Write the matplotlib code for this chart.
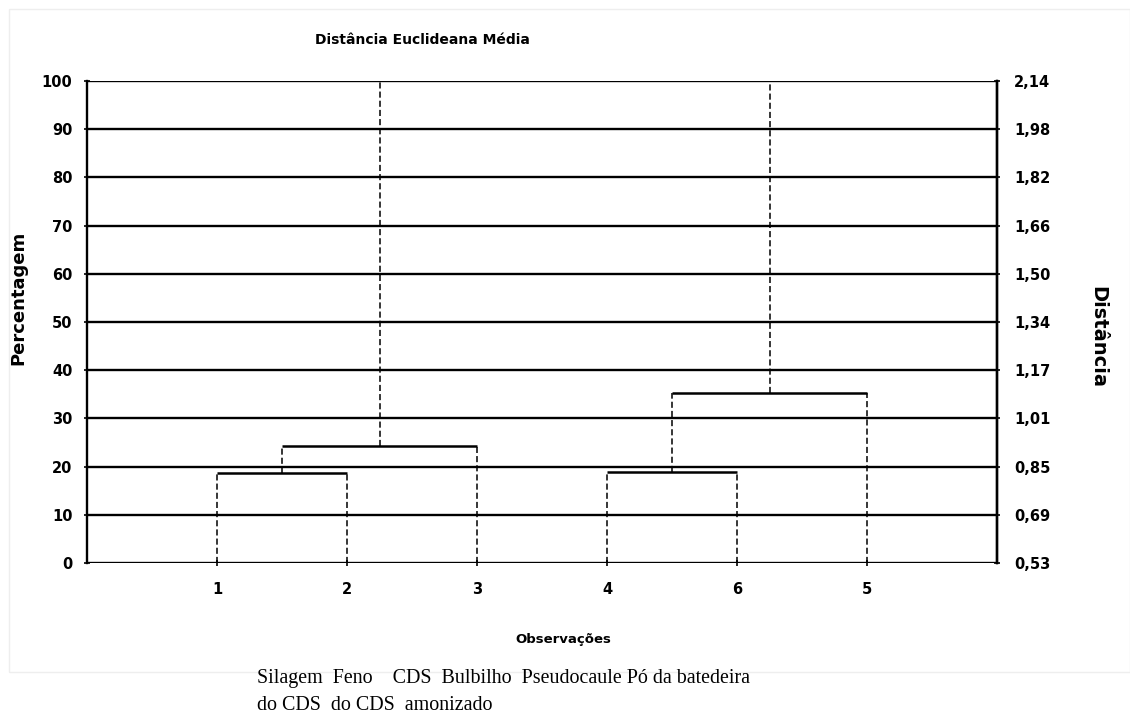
import matplotlib
matplotlib.use("Agg")
import matplotlib.pyplot as plt
from matplotlib.patches import Rectangle

# ---------------- data ----------------
leaf_labels = ['1', '2', '3', '4', '6', '5']
# merges: (child_a, child_b, height in %) ; new node ids start at len(leaf_labels)
merge_a = [0, 6, 3, 8]
merge_b = [1, 2, 4, 5]
merge_h = [18.7, 24.2, 18.9, 35.3]
top_height = 100
left_ticks = [0, 10, 20, 30, 40, 50, 60, 70, 80, 90, 100]
right_tick_labels = ['0,53', '0,69', '0,85', '1,01', '1,17', '1,34',
                     '1,50', '1,66', '1,82', '1,98', '2,14']
title = 'Distância Euclideana Média'
ylabel_left = 'Percentagem'
ylabel_right = 'Distância'
xlabel = 'Observações'
caption_line1 = 'Silagem  Feno    CDS  Bulbilho  Pseudocaule Pó da batedeira'
caption_line2 = 'do CDS  do CDS  amonizado'

# ---------------- figure ----------------
W, H = 1130, 722
fig = plt.figure(figsize=(W / 100, H / 100), dpi=100)
fig.patches.append(Rectangle((9 / W, 1 - 672 / H), 1 - 9 / W, (672 - 9) / H,
                             transform=fig.transFigure, fill=False,
                             edgecolor='#eeeeee', linewidth=1))

ax = fig.add_axes([87 / W, 1 - 563 / H, (997 - 87) / W, (563 - 81) / H])
ax.set_xlim(0, len(leaf_labels) + 1)
ax.set_ylim(0, 100)

bold = dict(family='DejaVu Sans', weight='bold')

# gridlines
for t in left_ticks:
    ax.axhline(t, color='black', lw=1.7, zorder=1)

# dendrogram
pos = {i: i + 1 for i in range(len(leaf_labels))}
hgt = {i: 0 for i in range(len(leaf_labels))}
parent_h = {}
for k, (a, b, h) in enumerate(zip(merge_a, merge_b, merge_h)):
    nid = len(leaf_labels) + k
    parent_h[a] = h
    parent_h[b] = h
    pos[nid] = (pos[a] + pos[b]) / 2
    hgt[nid] = h
for node in pos:
    ph = parent_h.get(node, top_height)
    ax.plot([pos[node], pos[node]], [hgt[node], ph], color='black', lw=1.1,
            ls=(0, (4, 2)), zorder=3, clip_on=False)
for k, (a, b, h) in enumerate(zip(merge_a, merge_b, merge_h)):
    ax.plot([pos[a], pos[b]], [h, h], color='black', lw=1.8, zorder=4,
            solid_capstyle='butt')

# axes styling
for s in ['top', 'bottom']:
    ax.spines[s].set_visible(False)
for s in ['left', 'right']:
    ax.spines[s].set_linewidth(1.7)

ax.set_yticks(left_ticks)
ax.set_yticklabels([str(t) for t in left_ticks], fontdict=bold, fontsize=10.5)
ax.tick_params(axis='y', direction='inout', length=5, width=1.2, pad=8)
ax.set_xticks(range(1, len(leaf_labels) + 1))
ax.set_xticklabels(leaf_labels, fontdict=bold, fontsize=10.5)
ax.tick_params(axis='x', direction='inout', length=4, width=1.2, pad=12)

ax2 = ax.twinx()
ax2.set_ylim(0, 100)
ax2.set_yticks(left_ticks)
ax2.set_yticklabels(right_tick_labels, fontdict=bold, fontsize=10.5)
ax2.tick_params(axis='y', direction='inout', length=5, width=1.2, pad=10)
for s in ['top', 'bottom', 'left']:
    ax2.spines[s].set_visible(False)
ax2.spines['right'].set_linewidth(1.7)

# texts
fig.text(315 / W, 1 - 40 / H, title, ha='left', va='center', fontsize=10, **bold)
fig.text(18 / W, 1 - 298 / H, ylabel_left, ha='center', va='center',
         rotation=90, fontsize=13, **bold)
fig.text(1098 / W, 1 - 337 / H, ylabel_right, ha='center', va='center',
         rotation=-90, fontsize=14, **bold)
fig.text(515 / W, 1 - 640 / H, xlabel, ha='left', va='center', fontsize=9.5, **bold)
fig.text(257 / W, 1 - 679 / H, caption_line1, ha='left', va='center',
         fontsize=14.4, family='Liberation Serif')
fig.text(257 / W, 1 - 706 / H, caption_line2, ha='left', va='center',
         fontsize=14.4, family='Liberation Serif')

fig.savefig('out.png', dpi=100, facecolor='white')
